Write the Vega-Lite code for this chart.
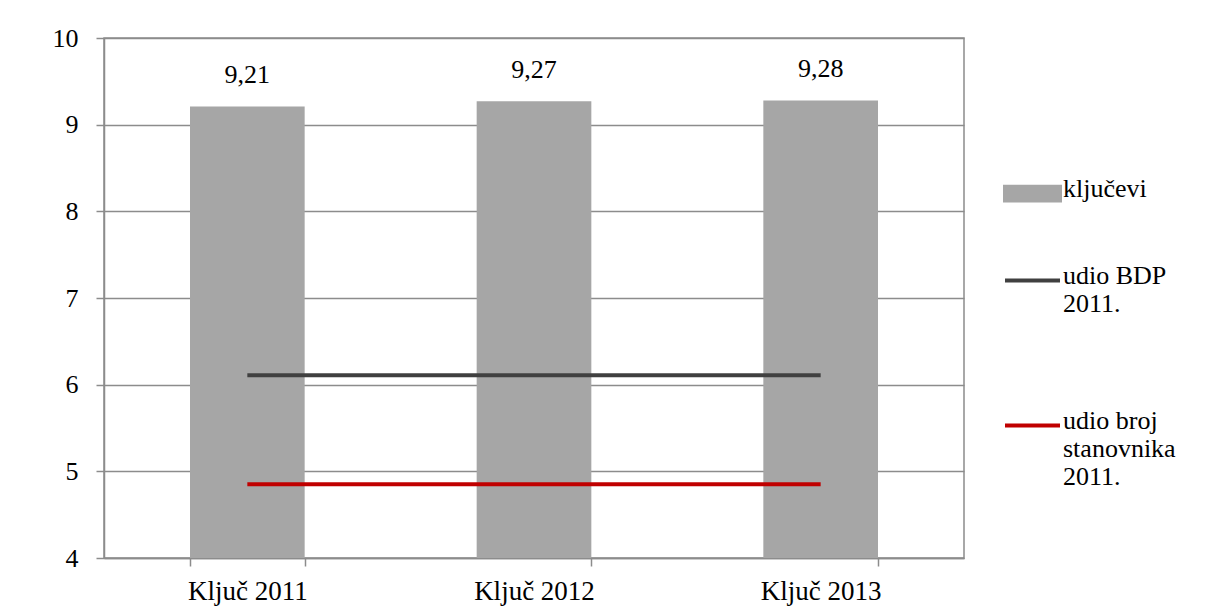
{
  "$schema": "https://vega.github.io/schema/vega-lite/v6.json",
  "width": 860,
  "height": 520,
  "autosize": {"type": "none"},
  "padding": {"left": 104, "top": 38, "right": 252, "bottom": 55},
  "background": "white",
  "config": {
    "font": "Liberation Serif",
    "locale": {"number": {"decimal": ",", "thousands": ".", "grouping": [3], "currency": ["", ""]}},
    "view": {"stroke": "#8c8c8c", "strokeWidth": 1.5},
    "axis": {
      "labelFont": "Liberation Serif",
      "labelFontSize": 26,
      "labelColor": "#000000",
      "domainColor": "#8c8c8c",
      "tickColor": "#8c8c8c",
      "gridColor": "#8c8c8c",
      "domainWidth": 1.5,
      "tickWidth": 1.5,
      "gridWidth": 1.5,
      "tickSize": 8,
      "title": null
    }
  },
  "data": {
    "values": [
      {"kategorija": "Ključ 2011", "serija": "ključevi", "vrijednost": 9.21},
      {"kategorija": "Ključ 2012", "serija": "ključevi", "vrijednost": 9.27},
      {"kategorija": "Ključ 2013", "serija": "ključevi", "vrijednost": 9.28},
      {"kategorija": "Ključ 2011", "serija": "udio BDP 2011.", "vrijednost": 6.11},
      {"kategorija": "Ključ 2012", "serija": "udio BDP 2011.", "vrijednost": 6.11},
      {"kategorija": "Ključ 2013", "serija": "udio BDP 2011.", "vrijednost": 6.11},
      {"kategorija": "Ključ 2011", "serija": "udio broj stanovnika 2011.", "vrijednost": 4.85},
      {"kategorija": "Ključ 2012", "serija": "udio broj stanovnika 2011.", "vrijednost": 4.85},
      {"kategorija": "Ključ 2013", "serija": "udio broj stanovnika 2011.", "vrijednost": 4.85}
    ]
  },
  "encoding": {
    "x": {
      "field": "kategorija",
      "type": "nominal",
      "sort": null,
      "scale": {"paddingInner": 0.6, "paddingOuter": 0.3},
      "axis": {"labelAngle": 0, "tickBand": "extent", "labelPadding": 12, "grid": false, "labelFontSize": 27}
    },
    "y": {
      "field": "vrijednost",
      "type": "quantitative",
      "scale": {"domain": [4, 10], "zero": false, "nice": false},
      "axis": {"values": [4, 5, 6, 7, 8, 9, 10], "labelPadding": 18, "grid": true, "format": "d"}
    },
    "color": {
      "field": "serija",
      "type": "nominal",
      "scale": {
        "domain": ["ključevi", "udio BDP 2011.", "udio broj stanovnika 2011."],
        "range": ["#a6a6a6", "#404040", "#c00000"]
      },
      "legend": {
        "title": null,
        "orient": "none",
        "legendX": 899,
        "legendY": 126,
        "symbolSize": 3025,
        "labelFont": "Liberation Serif",
        "labelFontSize": 26,
        "labelColor": "#000000",
        "labelOffset": 1,
        "labelBaseline": "top",
        "labelLimit": 300,
        "rowPadding": 42,
        "labelExpr": "datum.label == 'udio BDP 2011.' ? ['udio BDP', '2011.', ''] : datum.label == 'udio broj stanovnika 2011.' ? ['udio broj', 'stanovnika', '2011.'] : datum.label",
        "encode": {
          "labels": {
            "update": {
              "dy": {"signal": "datum.value === 'udio broj stanovnika 2011.' ? -9 : -18"}
            }
          },
          "symbols": {
            "update": {
              "shape": {"signal": "datum.value === 'ključevi' ? 'M-1,-0.25H1V0.25H-1Z' : datum.value === 'udio BDP 2011.' ? 'M-1,0H1' : 'M-1,0.33H1'"},
              "fill": {"signal": "datum.value === 'ključevi' ? '#a6a6a6' : 'transparent'"},
              "stroke": {"signal": "datum.value === 'ključevi' ? 'transparent' : scale('color', datum.value)"},
              "strokeWidth": {"value": 4},
              "opacity": {"value": 1}
            }
          }
        }
      }
    }
  },
  "layer": [
    {
      "transform": [{"filter": "datum.serija === 'ključevi'"}],
      "mark": {"type": "bar"},
      "encoding": {
        "y2": {"datum": 4}
      }
    },
    {
      "transform": [{"filter": "datum.serija === 'ključevi'"}],
      "mark": {"type": "text", "baseline": "alphabetic", "dy": -23, "fontSize": 26, "font": "Liberation Serif", "color": "#000000"},
      "encoding": {
        "text": {"field": "vrijednost", "type": "quantitative", "format": ".2f"},
        "color": {"value": "#000000"}
      }
    },
    {
      "transform": [{"filter": "datum.serija !== 'ključevi'"}],
      "mark": {"type": "line", "strokeWidth": 4, "strokeCap": "butt"}
    }
  ]
}
